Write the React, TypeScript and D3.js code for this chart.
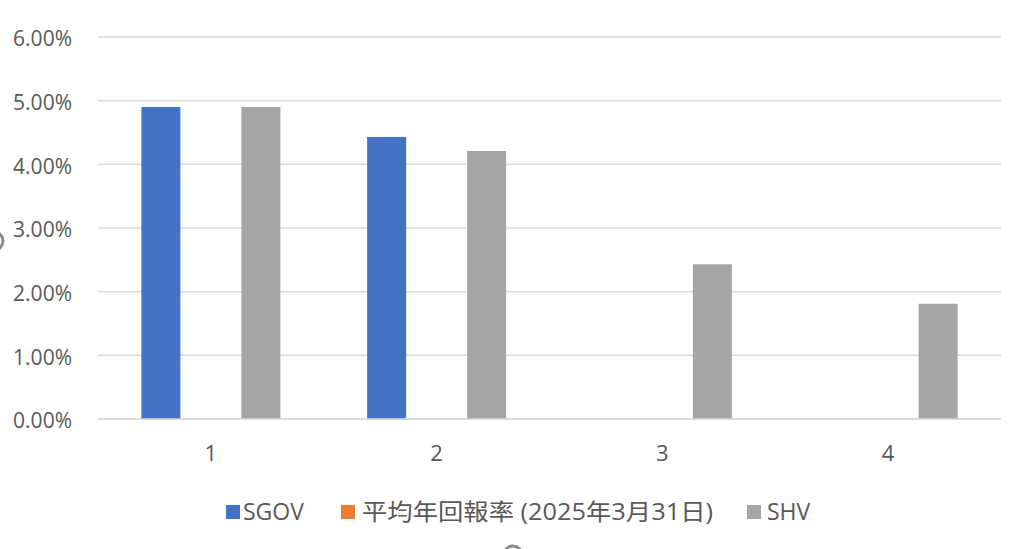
import React from "react";
import * as d3 from "d3";

const categories = ["1", "2", "3", "4"];
const seriesNames = ["SGOV", "平均年回報率 (2025年3月31日)", "SHV"];
const seriesColors = ["#4472C4", "#ED7D31", "#A5A5A5"];
const sgovValues = [0.049, 0.0443, 0, 0];
const avgValues = [0, 0, 0, 0];
const shvValues = [0.049, 0.0421, 0.0243, 0.0181];
const yTicks = [0, 0.01, 0.02, 0.03, 0.04, 0.05, 0.06];

const W = 1024;
const H = 549;
const left = 98;
const right = 1001;
const top = 37;
const bottom = 419;
const font = "'Open Sans', 'Noto Sans CJK TC', sans-serif";

export default function App() {
  const series = [sgovValues, avgValues, shvValues];
  const x0 = d3.scaleBand<string>().domain(categories).range([left, right]).padding(0);
  const x1 = d3
    .scaleBand<number>()
    .domain([0, 1, 2])
    .range([-75, 75])
    .paddingInner(0.22)
    .paddingOuter(0.11);
  const y = d3.scaleLinear().domain([0, 0.06]).range([bottom, top]);
  const fmt = d3.format(".2%");

  const legendItems = [
    { x: 226, textX: 243, len: 0 },
    { x: 341, textX: 362, len: 351 },
    { x: 747, textX: 767, len: 0 },
  ];

  return (
    <svg
      width={W}
      height={H}
      style={{ position: "absolute", left: 0, top: 0, background: "#fff" }}
      fontFamily={font}
    >
      <rect x={0} y={0} width={W} height={H} fill="#fff" />
      {yTicks.map((t) => (
        <g key={t}>
          <line x1={left} x2={right} y1={y(t)} y2={y(t)} stroke="#D9D9D9" strokeWidth={1.5} />
          <text x={72} y={y(t) + 2} dy="0.35em" textAnchor="end" fontSize={21} fill="#595959">
            {fmt(t)}
          </text>
        </g>
      ))}
      {categories.map((c, ci) => {
        const cx = x0(c)! + x0.bandwidth() / 2;
        return (
          <g key={c}>
            {series.map((vals, si) => {
              const v = vals[ci];
              if (v <= 0) return null;
              return (
                <rect
                  key={si}
                  x={cx + x1(si)!}
                  width={x1.bandwidth()}
                  y={y(v)}
                  height={y(0) - y(v)}
                  fill={seriesColors[si]}
                />
              );
            })}
            <text x={cx} y={453} dy="0.35em" textAnchor="middle" fontSize={22} fill="#595959">
              {c}
            </text>
          </g>
        );
      })}
      <line x1={left} x2={right} y1={y(0)} y2={y(0)} stroke="#D9D9D9" strokeWidth={1.5} />
      {seriesNames.map((n, i) => (
        <g key={n}>
          <rect x={legendItems[i].x} y={505} width={14} height={14} fill={seriesColors[i]} />
          <text
            x={legendItems[i].textX}
            y={512}
            dy="0.35em"
            fontSize={23}
            fill="#595959"
            {...(legendItems[i].len
              ? { textLength: legendItems[i].len, lengthAdjust: "spacingAndGlyphs" }
              : {})}
          >
            {n}
          </text>
        </g>
      ))}
      <circle cx={-6} cy={241} r={9} fill="none" stroke="#8c8c8c" strokeWidth={3} />
      <circle cx={513} cy={555} r={9} fill="none" stroke="#8c8c8c" strokeWidth={3} />
    </svg>
  );
}
